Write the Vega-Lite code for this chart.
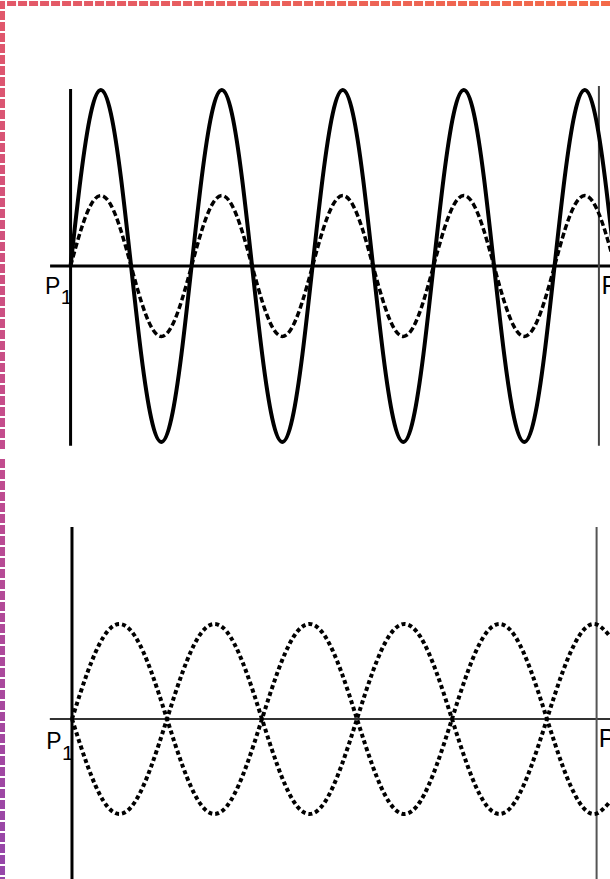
{
  "$schema": "https://vega.github.io/schema/vega-lite/v6.json",
  "padding": 0,
  "spacing": 0,
  "background": "white",
  "config": {"view": {"stroke": null}},
  "datasets": {
    "top": [
      {"t":0,"s":0,"d":0},{"t":30,"s":2.5,"d":1},{"t":60,"s":4.33,"d":1.73},{"t":90,"s":5,"d":2},{"t":120,"s":4.33,"d":1.73},{"t":150,"s":2.5,"d":1},
      {"t":180,"s":0,"d":0},{"t":210,"s":-2.5,"d":-1},{"t":240,"s":-4.33,"d":-1.73},{"t":270,"s":-5,"d":-2},{"t":300,"s":-4.33,"d":-1.73},{"t":330,"s":-2.5,"d":-1},
      {"t":360,"s":0,"d":0},{"t":390,"s":2.5,"d":1},{"t":420,"s":4.33,"d":1.73},{"t":450,"s":5,"d":2},{"t":480,"s":4.33,"d":1.73},{"t":510,"s":2.5,"d":1},
      {"t":540,"s":0,"d":0},{"t":570,"s":-2.5,"d":-1},{"t":600,"s":-4.33,"d":-1.73},{"t":630,"s":-5,"d":-2},{"t":660,"s":-4.33,"d":-1.73},{"t":690,"s":-2.5,"d":-1},
      {"t":720,"s":0,"d":0},{"t":750,"s":2.5,"d":1},{"t":780,"s":4.33,"d":1.73},{"t":810,"s":5,"d":2},{"t":840,"s":4.33,"d":1.73},{"t":870,"s":2.5,"d":1},
      {"t":900,"s":0,"d":0},{"t":930,"s":-2.5,"d":-1},{"t":960,"s":-4.33,"d":-1.73},{"t":990,"s":-5,"d":-2},{"t":1020,"s":-4.33,"d":-1.73},{"t":1050,"s":-2.5,"d":-1},
      {"t":1080,"s":0,"d":0},{"t":1110,"s":2.5,"d":1},{"t":1140,"s":4.33,"d":1.73},{"t":1170,"s":5,"d":2},{"t":1200,"s":4.33,"d":1.73},{"t":1230,"s":2.5,"d":1},
      {"t":1260,"s":0,"d":0},{"t":1290,"s":-2.5,"d":-1},{"t":1320,"s":-4.33,"d":-1.73},{"t":1350,"s":-5,"d":-2},{"t":1380,"s":-4.33,"d":-1.73},{"t":1410,"s":-2.5,"d":-1},
      {"t":1440,"s":0,"d":0},{"t":1470,"s":2.5,"d":1},{"t":1500,"s":4.33,"d":1.73},{"t":1530,"s":5,"d":2},{"t":1560,"s":4.33,"d":1.73},{"t":1590,"s":2.5,"d":1},
      {"t":1620,"s":0,"d":0}
    ],
    "bot": [
      {"t":0,"a":0,"b":0},{"t":30,"a":1.5,"b":-1.5},{"t":60,"a":2.6,"b":-2.6},{"t":90,"a":3,"b":-3},{"t":120,"a":2.6,"b":-2.6},{"t":150,"a":1.5,"b":-1.5},
      {"t":180,"a":0,"b":0},{"t":210,"a":-1.5,"b":1.5},{"t":240,"a":-2.6,"b":2.6},{"t":270,"a":-3,"b":3},{"t":300,"a":-2.6,"b":2.6},{"t":330,"a":-1.5,"b":1.5},
      {"t":360,"a":0,"b":0},{"t":390,"a":1.5,"b":-1.5},{"t":420,"a":2.6,"b":-2.6},{"t":450,"a":3,"b":-3},{"t":480,"a":2.6,"b":-2.6},{"t":510,"a":1.5,"b":-1.5},
      {"t":540,"a":0,"b":0},{"t":570,"a":-1.5,"b":1.5},{"t":600,"a":-2.6,"b":2.6},{"t":630,"a":-3,"b":3},{"t":660,"a":-2.6,"b":2.6},{"t":690,"a":-1.5,"b":1.5},
      {"t":720,"a":0,"b":0},{"t":750,"a":1.5,"b":-1.5},{"t":780,"a":2.6,"b":-2.6},{"t":810,"a":3,"b":-3},{"t":840,"a":2.6,"b":-2.6},{"t":870,"a":1.5,"b":-1.5},
      {"t":900,"a":0,"b":0},{"t":930,"a":-1.5,"b":1.5},{"t":960,"a":-2.6,"b":2.6},{"t":990,"a":-3,"b":3},{"t":1020,"a":-2.6,"b":2.6}
    ]
  },
  "vconcat": [
    {
      "width": 610,
      "height": 450,
      "layer": [
        {
          "data": {"values": [{}]},
          "mark": {"type": "rule", "color": "black", "strokeWidth": 3},
          "encoding": {
            "x": {"datum": -61, "type": "quantitative", "scale": {"domain": [-210, 1605], "nice": false, "zero": false}, "axis": null},
            "x2": {"datum": 1605},
            "y": {"datum": 0, "type": "quantitative", "scale": {"domain": [-5.256, 7.528], "nice": false, "zero": false}, "axis": null}
          }
        },
        {
          "data": {"values": [{}]},
          "mark": {"type": "rule", "color": "black", "strokeWidth": 3},
          "encoding": {
            "x": {"datum": 0, "type": "quantitative"},
            "y": {"datum": 5.03, "type": "quantitative"},
            "y2": {"datum": -5.11}
          }
        },
        {
          "data": {"values": [{}]},
          "mark": {"type": "rule", "color": "#444444", "strokeWidth": 2},
          "encoding": {
            "x": {"datum": 1572, "type": "quantitative"},
            "y": {"datum": 5.11, "type": "quantitative"},
            "y2": {"datum": -5.11}
          }
        },
        {
          "data": {"name": "top"},
          "mark": {"type": "line", "color": "black", "strokeWidth": 3.5, "strokeDash": [6, 3], "interpolate": "natural", "clip": true},
          "encoding": {
            "x": {"field": "t", "type": "quantitative"},
            "y": {"field": "d", "type": "quantitative"}
          }
        },
        {
          "data": {"name": "top"},
          "mark": {"type": "line", "color": "black", "strokeWidth": 4, "interpolate": "natural", "clip": true},
          "encoding": {
            "x": {"field": "t", "type": "quantitative"},
            "y": {"field": "s", "type": "quantitative"}
          }
        },
        {
          "data": {"values": [{}]},
          "mark": {"type": "text", "text": "P", "font": "Liberation Sans", "fontSize": 23, "align": "left", "baseline": "alphabetic", "color": "black"},
          "encoding": {"x": {"datum": -76, "type": "quantitative"}, "y": {"datum": -0.8, "type": "quantitative"}}
        },
        {
          "data": {"values": [{}]},
          "mark": {"type": "text", "text": "1", "font": "Liberation Sans", "fontSize": 21, "align": "left", "baseline": "alphabetic", "color": "black"},
          "encoding": {"x": {"datum": -29, "type": "quantitative"}, "y": {"datum": -1.08, "type": "quantitative"}}
        },
        {
          "data": {"values": [{}]},
          "mark": {"type": "text", "text": "P₂", "font": "Liberation Sans", "fontSize": 25, "align": "left", "baseline": "alphabetic", "color": "black"},
          "encoding": {"x": {"datum": 1580, "type": "quantitative"}, "y": {"datum": -0.8, "type": "quantitative"}}
        },
        {
          "data": {"values": [{}]},
          "mark": {"type": "rect", "color": {"gradient": "linear", "x1": 0, "y1": 0, "x2": 1, "y2": 0, "stops": [{"offset": 0, "color": "#e2586a"}, {"offset": 1, "color": "#f46a48"}]}},
          "encoding": {"x": {"datum": -210, "type": "quantitative"}, "x2": {"datum": 1605}, "y": {"datum": 7.528, "type": "quantitative"}, "y2": {"datum": 7.386}}
        },
        {
          "data": {"values": [{}]},
          "mark": {"type": "rect", "color": {"gradient": "linear", "x1": 0, "y1": 0, "x2": 0, "y2": 1, "stops": [{"offset": 0, "color": "#e2586a"}, {"offset": 1, "color": "#c24c8e"}]}},
          "encoding": {"x": {"datum": -210, "type": "quantitative"}, "x2": {"datum": -195.1}, "y": {"datum": 7.528, "type": "quantitative"}, "y2": {"datum": -5.256}}
        },
        {
          "data": {"values": [{}]},
          "mark": {"type": "rule", "color": "white", "strokeWidth": 5, "strokeDash": [2, 9]},
          "encoding": {"x": {"datum": -195, "type": "quantitative"}, "x2": {"datum": 1605}, "y": {"datum": 7.457, "type": "quantitative"}}
        },
        {
          "data": {"values": [{}]},
          "mark": {"type": "rule", "color": "white", "strokeWidth": 5, "strokeDash": [2, 9]},
          "encoding": {"x": {"datum": -202.5, "type": "quantitative"}, "y": {"datum": 7.3, "type": "quantitative"}, "y2": {"datum": -5.256}}
        }
      ]
    },
    {
      "width": 610,
      "height": 429,
      "layer": [
        {
          "data": {"values": [{}]},
          "mark": {"type": "rule", "color": "#333333", "strokeWidth": 2},
          "encoding": {
            "x": {"datum": -42, "type": "quantitative", "scale": {"domain": [-136.4, 1019.4], "nice": false, "zero": false}, "axis": null},
            "x2": {"datum": 1019.4},
            "y": {"datum": 0, "type": "quantitative", "scale": {"domain": [-5.274, 8.274], "nice": false, "zero": false}, "axis": null}
          }
        },
        {
          "data": {"values": [{}]},
          "mark": {"type": "rule", "color": "black", "strokeWidth": 3},
          "encoding": {
            "x": {"datum": 0, "type": "quantitative"},
            "y": {"datum": 6.06, "type": "quantitative"},
            "y2": {"datum": -5.274}
          }
        },
        {
          "data": {"values": [{}]},
          "mark": {"type": "rule", "color": "#555555", "strokeWidth": 2},
          "encoding": {
            "x": {"datum": 994, "type": "quantitative"},
            "y": {"datum": 6.06, "type": "quantitative"},
            "y2": {"datum": -5.274}
          }
        },
        {
          "data": {"name": "bot"},
          "mark": {"type": "line", "color": "black", "strokeWidth": 4, "strokeDash": [4, 3], "interpolate": "natural", "clip": true},
          "encoding": {
            "x": {"field": "t", "type": "quantitative"},
            "y": {"field": "a", "type": "quantitative"}
          }
        },
        {
          "data": {"name": "bot"},
          "mark": {"type": "line", "color": "black", "strokeWidth": 4, "strokeDash": [4, 3], "interpolate": "natural", "clip": true},
          "encoding": {
            "x": {"field": "t", "type": "quantitative"},
            "y": {"field": "b", "type": "quantitative"}
          }
        },
        {
          "data": {"values": [{}]},
          "mark": {"type": "text", "text": "P", "font": "Liberation Sans", "fontSize": 23, "align": "left", "baseline": "alphabetic", "color": "black"},
          "encoding": {"x": {"datum": -49, "type": "quantitative"}, "y": {"datum": -0.95, "type": "quantitative"}}
        },
        {
          "data": {"values": [{}]},
          "mark": {"type": "text", "text": "1", "font": "Liberation Sans", "fontSize": 21, "align": "left", "baseline": "alphabetic", "color": "black"},
          "encoding": {"x": {"datum": -19, "type": "quantitative"}, "y": {"datum": -1.29, "type": "quantitative"}}
        },
        {
          "data": {"values": [{}]},
          "mark": {"type": "text", "text": "P₂", "font": "Liberation Sans", "fontSize": 25, "align": "left", "baseline": "alphabetic", "color": "black"},
          "encoding": {"x": {"datum": 998, "type": "quantitative"}, "y": {"datum": -0.9, "type": "quantitative"}}
        },
        {
          "data": {"values": [{}]},
          "mark": {"type": "rect", "color": {"gradient": "linear", "x1": 0, "y1": 0, "x2": 0, "y2": 1, "stops": [{"offset": 0, "color": "#c24c8e"}, {"offset": 1, "color": "#9446aa"}]}},
          "encoding": {"x": {"datum": -136.4, "type": "quantitative"}, "x2": {"datum": -126.9}, "y": {"datum": 8.274, "type": "quantitative"}, "y2": {"datum": -5.274}}
        },
        {
          "data": {"values": [{}]},
          "mark": {"type": "rule", "color": "white", "strokeWidth": 5, "strokeDash": [2, 9]},
          "encoding": {"x": {"datum": -131.65, "type": "quantitative"}, "y": {"datum": 8.274, "type": "quantitative"}, "y2": {"datum": -5.274}}
        }
      ]
    }
  ]
}
